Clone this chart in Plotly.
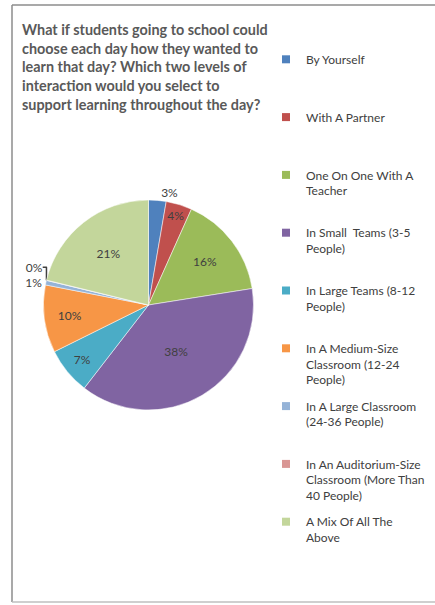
import plotly.graph_objects as go

categories = [
    "By Yourself",
    "With A Partner",
    "One On One With A<br>Teacher",
    "In Small  Teams (3-5<br>People)",
    "In Large Teams (8-12<br>People)",
    "In A Medium-Size<br>Classroom (12-24<br>People)",
    "In A Large Classroom<br>(24-36 People)",
    "In An Auditorium-Size<br>Classroom (More Than<br>40 People)",
    "A Mix Of All The<br>Above",
]
values = [2.7, 4.0, 15.8, 38.0, 7.2, 10.4, 0.7, 0.04, 21.2]
colors = ["#4F81BD", "#C0504D", "#9BBB59", "#8064A2", "#4BACC6",
          "#F79646", "#95B3D7", "#D99694", "#C3D69B"]
text_pos = ["outside", "inside", "inside", "inside", "inside",
            "inside", "outside", "outside", "inside"]

W, H = 435, 605
title = ("What if students going to school could<br>choose each day how they wanted to<br>"
         "learn that day? Which two levels of<br>interaction would you select to<br>"
         "support learning throughout the day?")

plain = [c.replace("<br>", " ") for c in categories]
nlines = [c.count("<br>") + 1 for c in categories]
leg_names = [c + "<br> " * (3 - n) for c, n in zip(categories, nlines)]

fig = go.Figure()
fig.add_trace(go.Pie(
    labels=plain,
    values=values,
    sort=False,
    direction="clockwise",
    rotation=0,
    showlegend=False,
    marker=dict(colors=colors, line=dict(color="white", width=0.5)),
    texttemplate="%{percent:.0%}",
    textposition=text_pos,
    textfont=dict(family="Lato", size=12, color="#404040"),
    insidetextorientation="horizontal",
    domain=dict(x=[43.5 / W, 253.5 / W], y=[(H - 410) / H, (H - 200) / H]),
    hoverinfo="label+percent",
))

# legend entries (one per category)
for name, col in zip(leg_names, colors):
    fig.add_trace(go.Scatter(
        x=[None], y=[None], mode="markers", name=name, legendgroup=name,
        marker=dict(symbol="square", size=8, color=col), hoverinfo="skip",
    ))

border = dict(type="line", xref="paper", yref="paper",
              line=dict(color="#8C8C8C", width=1.5))
fig.update_layout(
    width=W, height=H,
    margin=dict(l=0, r=0, t=0, b=0),
    paper_bgcolor="white",
    plot_bgcolor="white",
    xaxis=dict(visible=False),
    yaxis=dict(visible=False),
    title=dict(text=title, x=22 / W, xanchor="left", y=1 - 35 / H, yanchor="top",
               font=dict(family="Lato", size=14.4, color="#595959", weight="bold")),
    legend=dict(x=266 / W, xanchor="left", y=1 - 45 / H, yanchor="top",
                font=dict(family="Lato", size=12, color="#404040"),
                valign="top", itemwidth=30, tracegroupgap=8,
                bgcolor="rgba(0,0,0,0)"),
    shapes=[
        dict(border, x0=12 / W, x1=1, y0=1 - 5 / H, y1=1 - 5 / H),
        dict(border, x0=12 / W, x1=12 / W, y0=3 / H, y1=1 - 5 / H),
        dict(border, x0=12 / W, x1=1, y0=3 / H, y1=3 / H,
             line=dict(color="#BFBFBF", width=1.5)),
    ],
)

fig.write_html("out.html", config={"displayModeBar": False},
               post_script="document.body.style.margin='0';document.body.style.padding='0';")
